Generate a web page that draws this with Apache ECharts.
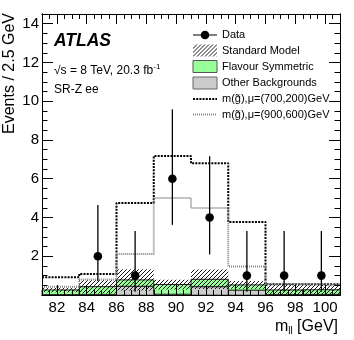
<!DOCTYPE html>
<html>
<head>
<meta charset="utf-8">
<script src="https://cdn.jsdelivr.net/npm/echarts@6/dist/echarts.min.js"></script>
<style>
  html, body { margin: 0; padding: 0; background: #fff; }
  #chart { width: 354px; height: 340px; }
</style>
</head>
<body>
<div id="chart"></div>
<script>
// bin edges in m_ll [GeV]
const edges = [81, 83.5, 86, 88.5, 91, 93.5, 96, 98.5, 101];
// backgrounds per bin
const otherBkg   = [0.02, 0.03, 0.45, 0.04, 0.43, 0.25, 0.02, 0.03];
const flavourSym = [0.24, 0.40, 0.33, 0.50, 0.38, 0.27, 0.24, 0.24];
const smErr      = [0.12, 0.35, 0.55, 0.25, 0.50, 0.20, 0.32, 0.28];
// signal models
const sig700 = [0.92, 1.09, 4.75, 7.17, 6.80, 3.77, 0.55, 0.55];
const sig900 = [0.43, 0.80, 2.12, 5.00, 4.49, 1.47, 0.57, 0.52];
// data
const dataObs = [0, 2, 1, 6, 4, 1, 1, 1];
const errLow  = [0, 1.29, 0.83, 2.38, 1.91, 0.83, 0.83, 0.83];
const errHigh = [0, 2.64, 2.30, 3.58, 3.16, 2.30, 2.30, 2.30];
// tick labels
const xLabels = [82, 84, 86, 88, 90, 92, 94, 96, 98, 100];
const yLabels = [2, 4, 6, 8, 10, 12, 14];

const FONT = '"Liberation Sans", Arial, Helvetica, sans-serif';
const GREEN = '#99ff99';
const GREY = '#cccccc';

function hatchCanvas() {
  const c = document.createElement('canvas');
  c.width = 4; c.height = 4;
  const g = c.getContext('2d');
  g.strokeStyle = '#000';
  g.lineWidth = 0.9;
  g.beginPath();
  g.moveTo(0, 4); g.lineTo(4, 0);
  g.moveTo(-1, 1); g.lineTo(1, -1);
  g.moveTo(3, 5); g.lineTo(5, 3);
  g.stroke();
  return c;
}
const hatch = { image: hatchCanvas(), repeat: 'repeat' };

const centers = [];
for (let i = 0; i < edges.length - 1; i++) centers.push((edges[i] + edges[i + 1]) / 2);

const otherBoxes = [], flavBoxes = [], smBand = [];
for (let i = 0; i < centers.length; i++) {
  const tot = otherBkg[i] + flavourSym[i];
  otherBoxes.push([edges[i], edges[i + 1], 0, otherBkg[i]]);
  flavBoxes.push([edges[i], edges[i + 1], otherBkg[i], tot]);
  smBand.push([edges[i], edges[i + 1], Math.max(0, tot - smErr[i]), tot + smErr[i]]);
}

function stepLine(vals) {
  const pts = vals.map((v, i) => [edges[i], v]);
  pts.push([edges[edges.length - 1], vals[vals.length - 1]]);
  return pts;
}

const dataPts = [];
dataObs.forEach((v, i) => {
  if (v > 0) dataPts.push([centers[i], v, v - errLow[i], v + errHigh[i]]);
});

function boxRender(fill, stroke, lw) {
  return function (params, api) {
    const p0 = api.coord([api.value(0), api.value(3)]);
    const p1 = api.coord([api.value(1), api.value(2)]);
    return {
      type: 'rect',
      shape: { x: p0[0], y: p0[1], width: p1[0] - p0[0], height: p1[1] - p0[1] },
      style: { fill: fill, stroke: stroke, lineWidth: lw }
    };
  };
}

function dataRender(params, api) {
  const c = api.coord([api.value(0), api.value(1)]);
  const lo = api.coord([api.value(0), api.value(2)]);
  const hi = api.coord([api.value(0), api.value(3)]);
  return {
    type: 'group',
    children: [
      { type: 'line', shape: { x1: c[0], y1: lo[1], x2: c[0], y2: hi[1] },
        style: { stroke: '#000', lineWidth: 1.3 } },
      { type: 'circle', shape: { cx: c[0], cy: c[1], r: 4.3 }, style: { fill: '#000' } }
    ]
  };
}

function xAxisDef(pos, major, labels) {
  return {
    type: 'value', position: pos, min: 81, max: 101, interval: 0.5, z: 10,
    axisLine: { show: true, onZero: false, lineStyle: { color: '#000', width: 1 } },
    axisTick: major
      ? { inside: true, length: 10, customValues: xLabels, lineStyle: { color: '#000' } }
      : { inside: true, length: 5, lineStyle: { color: '#000' } },
    axisLabel: labels
      ? { customValues: xLabels, color: '#000', fontSize: 15, fontFamily: FONT, margin: 5 }
      : { show: false },
    splitLine: { show: false }
  };
}
function yAxisDef(pos, major, labels) {
  return {
    type: 'value', position: pos, min: 0, max: 14.5, interval: 0.5, z: 10,
    axisLine: { show: true, onZero: false, lineStyle: { color: '#000', width: 1 } },
    axisTick: major
      ? { inside: true, length: 11, customValues: yLabels, lineStyle: { color: '#000' } }
      : { inside: true, length: 5.5, lineStyle: { color: '#000' } },
    axisLabel: labels
      ? { customValues: yLabels, color: '#000', fontSize: 15, fontFamily: FONT, margin: 3 }
      : { show: false },
    splitLine: { show: false }
  };
}

const noSymbol = { color: 'rgba(0,0,0,0)', borderWidth: 0 };

const myChart = echarts.init(document.getElementById('chart'), null, { renderer: 'canvas' });
const option = {
  animation: false,
  backgroundColor: '#fff',
  grid: { left: 42, right: 14, top: 14, bottom: 45 },
  xAxis: [
    xAxisDef('bottom', false, true),
    xAxisDef('bottom', true, false),
    xAxisDef('top', false, false),
    xAxisDef('top', true, false)
  ],
  yAxis: [
    yAxisDef('left', false, true),
    yAxisDef('left', true, false),
    yAxisDef('right', false, false),
    yAxisDef('right', true, false)
  ],
  legend: {
    orient: 'vertical', left: 192, top: 29, padding: 0,
    itemWidth: 24, itemHeight: 12, itemGap: 3.5,
    textStyle: { fontSize: 11, fontFamily: FONT, color: '#000', lineHeight: 12 },
    data: [
      { name: 'Data', icon: 'path://M0,0 M24,12 M0,5.4 L24,5.4 L24,6.6 L0,6.6 Z M16.3,6 A4.3,4.3 0 1,1 7.7,6 A4.3,4.3 0 1,1 16.3,6 Z',
        itemStyle: { color: '#000' } },
      { name: 'Standard Model', icon: 'rect', itemStyle: { color: hatch, borderWidth: 0 } },
      { name: 'Flavour Symmetric', icon: 'rect', itemStyle: { color: GREEN, borderColor: '#555', borderWidth: 1 } },
      { name: 'Other Backgrounds', icon: 'rect', itemStyle: { color: GREY, borderColor: '#666', borderWidth: 1 } },
      { name: 'm(g̃),μ=(700,200)GeV', itemStyle: noSymbol },
      { name: 'm(g̃),μ=(900,600)GeV', itemStyle: noSymbol }
    ]
  },
  graphic: [
    { type: 'text', left: 54, top: 32, z: 20,
      style: { text: 'ATLAS', font: 'italic bold 17.5px ' + FONT, fill: '#000' } },
    { type: 'text', left: 54, top: 63, z: 20,
      style: { text: '{a|√s = 8 TeV, 20.3 fb}{b|-1}', fill: '#000',
        rich: { a: { fontSize: 12, fontFamily: FONT, verticalAlign: 'bottom' },
                b: { fontSize: 8, fontFamily: FONT, verticalAlign: 'top', padding: [0, 0, 6, 0] } } } },
    { type: 'text', left: 54, top: 84, z: 20,
      style: { text: 'SR-Z ee', font: '12px ' + FONT, fill: '#000' } },
    { type: 'text', x: 10, y: 13, rotation: Math.PI / 2, z: 20,
      style: { text: 'Events / 2.5 GeV', font: '16px ' + FONT, fill: '#000',
        align: 'right', verticalAlign: 'middle' } },
    { type: 'text', right: 16, top: 319, z: 20,
      style: { text: '{a|m}{b|ll}{a| [GeV]}', fill: '#000',
        rich: { a: { fontSize: 16, fontFamily: FONT }, b: { fontSize: 10, fontFamily: FONT, padding: [8, 0, 0, 0] } } } }
  ],
  series: [
    { name: 'Other Backgrounds', type: 'custom', z: 2, data: otherBoxes,
      itemStyle: { color: GREY }, renderItem: boxRender(GREY, '#666', 1),
      encode: { x: [0, 1], y: [2, 3] } },
    { name: 'Flavour Symmetric', type: 'custom', z: 3, data: flavBoxes,
      itemStyle: { color: GREEN }, renderItem: boxRender(GREEN, '#222', 1),
      encode: { x: [0, 1], y: [2, 3] } },
    { name: 'Standard Model', type: 'custom', z: 4, data: smBand,
      itemStyle: { color: '#444' }, renderItem: boxRender(hatch, null, 0),
      encode: { x: [0, 1], y: [2, 3] } },
    { name: 'm(g̃),μ=(700,200)GeV', type: 'line', z: 5, step: 'end', showSymbol: false, symbol: 'none',
      data: stepLine(sig700), lineStyle: { color: '#000', width: 2, type: [2, 1.2] },
      itemStyle: { color: '#000' } },
    { name: 'm(g̃),μ=(900,600)GeV', type: 'line', z: 5, step: 'end', showSymbol: false, symbol: 'none',
      data: stepLine(sig900), lineStyle: { color: '#888', width: 2, type: [1, 1] },
      itemStyle: { color: '#888' } },
    { name: 'Data', type: 'custom', z: 6, data: dataPts, renderItem: dataRender,
      itemStyle: { color: '#000' }, encode: { x: 0, y: [1, 2, 3] } }
  ]
};
myChart.setOption(option, true);
</script>
</body>
</html>
